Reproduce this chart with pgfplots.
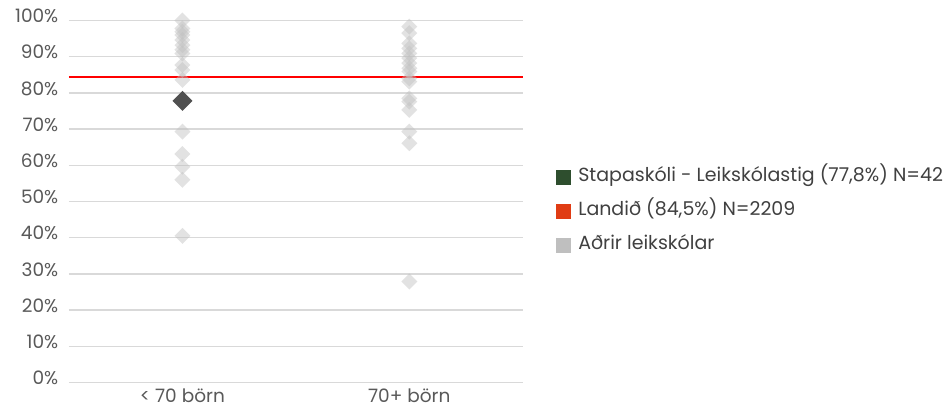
\documentclass[border=0pt]{standalone}
\usepackage{fontspec}
\setmainfont{Poppins}
\usepackage{pgfplots}
\pgfplotsset{compat=1.18}
\definecolor{gridc}{HTML}{D9D9D9}
\definecolor{txt}{HTML}{595959}
\definecolor{legtxt}{HTML}{404040}
\definecolor{stapa}{HTML}{2E4E2E}
\definecolor{landid}{HTML}{E03C14}
\definecolor{adrir}{HTML}{BFBFBF}
\definecolor{darkpt}{HTML}{505050}
\begin{document}
\begin{tikzpicture}
\path (0,0) rectangle (943pt,408pt);
\begin{axis}[
  at={(69pt,25.3pt)}, anchor=south west,
  scale only axis, width=454pt, height=362.2pt,
  xmin=-0.5, xmax=1.5, ymin=0, ymax=100,
  xtick={0,1}, xticklabels={{< 70 börn},{70+ börn}},
  ytick={0,10,...,100},
  yticklabels={0\%,10\%,20\%,30\%,40\%,50\%,60\%,70\%,80\%,90\%,100\%},
  axis line style={draw=none},
  major tick length=0pt,
  ymajorgrids, major grid style={gridc, line width=1.4pt},
  tick label style={font=\fontsize{18.5}{22}\selectfont, text=txt},
  yticklabel style={anchor=base east, inner sep=0pt, xshift=-10.5pt, yshift=-2.3pt},
  xticklabel style={anchor=base, inner sep=0pt, yshift=-20pt},
  clip=false,
  legend cell align=left,
  legend style={at={(1.0727,0.591)}, anchor=north west, draw=none, fill=none,
    inner sep=0pt, row sep=17pt,
    font=\fontsize{19}{22}\selectfont, text=legtxt,
    nodes={inner sep=0pt, text height=13pt, text depth=4pt},
    /tikz/every odd column/.style={column sep=8pt}},
]
\addlegendimage{legend image code/.code={\fill[stapa] (0pt,-7pt) rectangle (14pt,7pt);}}
\addlegendentry{Stapaskóli - Leikskólastig (77,8\%) N=42}
\addlegendimage{legend image code/.code={\fill[landid] (0pt,-7pt) rectangle (14pt,7pt);}}
\addlegendentry{Landið (84,5\%) N=2209}
\addlegendimage{legend image code/.code={\fill[adrir] (0pt,-7pt) rectangle (14pt,7pt);}}
\addlegendentry{Aðrir leikskólar}
% other kindergartens
\addplot[only marks, mark=square*, mark size=5.66pt, color=adrir,
  mark options={rotate=45, fill=adrir, draw opacity=0, line width=0pt, fill opacity=0.45}, forget plot]
coordinates {
 (0,100) (0,97.8) (0,96.9) (0,96.0) (0,94.6) (0,93.2) (0,91.9) (0,90.9)
 (0,87.7) (0,86.3) (0,83.6) (0,69.3) (0,63.1) (0,59.6) (0,56.0) (0,40.5)
 (1,98.3) (1,96.5) (1,93.7) (1,92.3) (1,90.9) (1,89.6) (1,88.2) (1,86.8)
 (1,85.9) (1,84.0) (1,83.1) (1,78.5) (1,77.6) (1,75.3) (1,69.3) (1,66.1) (1,27.9)
};
% this school
\addplot[only marks, mark=square*, mark size=7.07pt, color=darkpt,
  mark options={rotate=45, fill=darkpt, draw opacity=0, line width=0pt}, forget plot]
coordinates {(0,77.8)};
% country average
\addplot[red, line width=2pt, forget plot] coordinates {(-0.5,84.5) (1.5,84.5)};
\end{axis}
\end{tikzpicture}
\end{document}
